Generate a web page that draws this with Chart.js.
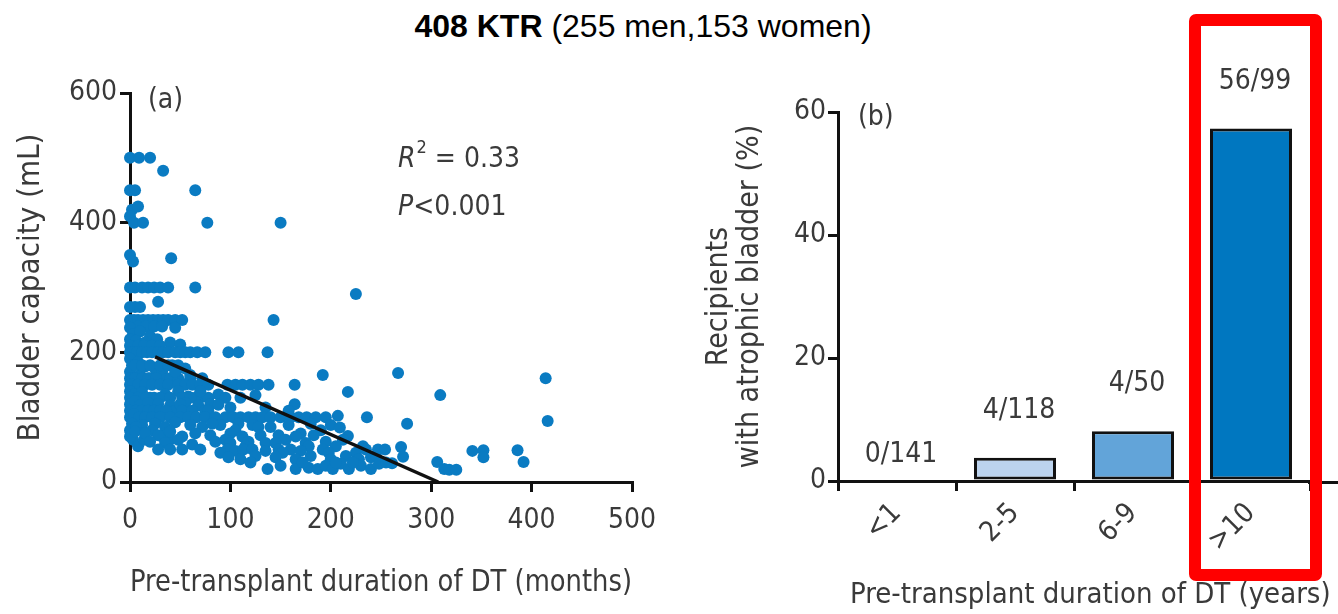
<!DOCTYPE html>
<html>
<head>
<meta charset="utf-8">
<script src="https://cdn.jsdelivr.net/npm/chart.js@4.4.0/dist/chart.umd.min.js"></script>
<style>
  body { margin: 0; background: #fff; width: 1338px; height: 614px; overflow: hidden; position: relative; }
  #title { position: absolute; top: 8px; left: 0; width: 1286px; text-align: center;
    font-family: 'Liberation Sans', Arial, sans-serif; font-size: 32px; color: #000; }
  #scatter { position: absolute; left: 0; top: 0; }
  #bars { position: absolute; left: 670px; top: 0; }
  #highlight { position: absolute; left: 1189px; top: 14px; width: 133px; height: 567px;
    border: 12px solid #ff0000; border-radius: 7px; box-sizing: border-box; }
</style>
</head>
<body>
<div id="title"><b>408 KTR</b> (255 men,153 women)</div>
<canvas id="scatter" width="670" height="614"></canvas>
<canvas id="bars" width="668" height="614"></canvas>
<div id="highlight"></div>
<script>
// panel (a): pre-transplant duration (months) vs bladder capacity (mL)
const durationMonths = [
  0, 9, 20, 33, 0, 5, 65, 2, 8, 0, 4, 13, 77, 150, 0, 3, 41, 225,
  0, 5, 12, 18, 24, 30, 38, 65, 28, 0, 5, 10,
  0, 4, 8, 13, 18, 23, 28, 33, 38, 45, 52, 143, 8, 16, 24, 32,
  0, 3, 10, 20, 45, 0, 6, 15, 27, 40, 50, 0, 8, 14, 22, 30,
  0, 3, 7, 12, 17, 22, 28, 33, 38, 45, 50, 55, 60, 67, 75, 98, 108, 137,
  0, 2, 8, 15, 25, 32, 42, 55, 0, 10, 20, 35, 192, 267, 5, 12, 20, 30, 38, 48,
  0, 5, 12, 18, 26, 40, 48, 60, 72, 45, 60,
  0, 3, 8, 15, 22, 30, 38, 48, 55, 62, 70, 78, 97, 105, 112, 120, 128, 138, 164, 217,
  0, 4, 12, 20, 35, 48, 58, 70, 88, 125, 309, 0, 8, 16, 24, 30, 40, 52, 65, 78, 95, 110, 70, 60,
  0, 5, 10, 18, 28, 40, 55, 68, 80, 88, 164, 100, 45, 135, 158, 50,
  0, 6, 12, 18, 24, 30, 36, 52, 62, 75, 78,
  0, 4, 9, 15, 22, 30, 40, 50, 58, 66, 75, 85, 95, 103, 110, 118, 125, 132, 140, 150,
  160, 168, 176, 185, 195, 207, 236, 276, 416, 414,
  2, 12, 25, 35, 45, 60, 72, 90, 108, 122, 140, 158, 180, 200, 209, 82, 128, 190,
  0, 3, 8, 0, 6, 14, 22, 32, 40, 105,
  5, 15, 28, 40, 52, 65, 80, 100, 112, 130, 148, 170, 183, 217, 95, 165, 212,
  20, 35, 48, 62, 85, 100, 118, 135, 155, 175, 195, 205, 115, 145, 178, 232,
  28, 40, 52, 70, 97, 105, 113, 122, 135, 148, 160, 170, 192, 225, 235, 247, 254, 270, 341, 352, 386,
  90, 152, 198,
  98, 110, 125, 145, 165, 180, 200, 215, 228, 240, 272, 352, 245,
  137, 150, 165, 178, 187, 195, 202, 210, 218, 230, 240, 248, 261, 306, 313, 318, 325, 392,
  120, 172, 205, 222, 255
];
const capacityMl = [
  500, 500, 500, 480, 450, 450, 450, 420, 425, 410, 400, 400, 400, 400, 350, 340, 345, 290,
  300, 300, 300, 300, 300, 300, 300, 300, 278, 270, 270, 270,
  250, 250, 250, 250, 250, 250, 250, 250, 250, 250, 250, 250, 240, 240, 240, 240,
  238, 228, 232, 225, 238, 220, 218, 215, 220, 215, 212, 210, 210, 210, 210, 210,
  200, 200, 200, 200, 200, 200, 200, 200, 200, 200, 200, 200, 200, 200, 200, 200, 200, 200,
  190, 180, 185, 178, 175, 170, 180, 175, 170, 165, 160, 158, 165, 168, 180, 180, 180, 180, 180, 180,
  160, 160, 160, 160, 160, 160, 160, 160, 160, 170, 165,
  150, 150, 150, 150, 150, 150, 150, 150, 150, 150, 150, 150, 150, 150, 150, 150, 150, 150, 150, 139,
  140, 135, 138, 130, 135, 140, 132, 130, 135, 134, 134, 130, 130, 130, 130, 130, 130, 130, 130, 130, 130, 130, 140, 130,
  120, 125, 118, 122, 120, 118, 122, 118, 120, 119, 120, 115, 110, 115, 110, 120,
  110, 110, 110, 110, 110, 110, 110, 110, 110, 110, 110,
  100, 105, 100, 100, 100, 100, 100, 100, 100, 100, 100, 100, 100, 100, 100, 100, 100, 100, 100, 100,
  100, 100, 100, 100, 100, 102, 100, 90, 94, 160,
  90, 88, 90, 85, 92, 88, 85, 88, 90, 88, 85, 88, 90, 88, 84, 90, 85, 80,
  80, 65, 55, 70, 85, 65, 80, 70, 65, 80,
  78, 75, 72, 78, 70, 75, 72, 75, 70, 72, 72, 75, 72, 71, 65, 70, 65,
  62, 60, 65, 58, 62, 60, 62, 60, 65, 60, 62, 55, 55, 60, 55, 55,
  50, 50, 50, 50, 50, 48, 50, 50, 48, 50, 50, 48, 50, 45, 50, 50, 50, 54, 48, 49, 49,
  45, 45, 45,
  38, 35, 40, 38, 35, 40, 35, 40, 35, 38, 39, 38, 40,
  20, 25, 20, 22, 20, 25, 20, 28, 20, 25, 20, 28, 29, 31, 20, 19, 19, 31,
  30, 30, 30, 30, 30
];
const fitMonths = [25, 307];
const fitCapacity = [193, 0];

// panel (b): share of recipients with atrophic bladder by dialysis years
const durationGroups = ['<1', '2-5', '6-9', '>10'];
const atrophicPercent = [0, 3.8, 8.1, 57.3];
const groupCounts = ['0/141', '4/118', '4/50', '56/99'];
const barColors = ['#bcd3ee', '#bcd3ee', '#62a4d9', '#0077c0'];

const narrow = "'DejaVu Sans Condensed', 'Liberation Sans', sans-serif";
const textColor = '#3a3a3a';
const ink = '#111';

function axisStyle(extra) {
  return Object.assign({
    border: { display: true, color: ink, width: 3 },
    grid: { display: true, drawOnChartArea: false, drawTicks: true, tickLength: 10, lineWidth: 3, color: ink },
  }, extra);
}

const scatterNotes = {
  id: 'scatterNotes',
  afterDraw(chart) {
    const { ctx, chartArea, scales } = chart;
    ctx.save();
    ctx.fillStyle = textColor;
    ctx.textBaseline = 'middle';
    ctx.textAlign = 'left';
    ctx.font = `28px ${narrow}`;
    ctx.fillText('(a)', chartArea.left + 18, chartArea.top + 8);

    const x0 = scales.x.getPixelForValue(267);
    let y = scales.y.getPixelForValue(497);
    ctx.font = `italic 28px ${narrow}`;
    ctx.fillText('R', x0, y);
    let w = ctx.measureText('R').width;
    ctx.font = `18px ${narrow}`;
    ctx.fillText('2', x0 + w + 1, y - 11);
    w += ctx.measureText('2').width + 1;
    ctx.font = `28px ${narrow}`;
    ctx.fillText(' = 0.33', x0 + w, y);

    y = scales.y.getPixelForValue(423);
    ctx.font = `italic 28px ${narrow}`;
    ctx.fillText('P', x0, y);
    w = ctx.measureText('P').width;
    ctx.font = `28px ${narrow}`;
    ctx.fillText('<0.001', x0 + w, y);
    ctx.restore();
  }
};

new Chart(document.getElementById('scatter'), {
  type: 'scatter',
  data: {
    datasets: [
      {
        type: 'line',
        data: fitMonths.map((m, i) => ({ x: m, y: fitCapacity[i] })),
        borderColor: ink,
        borderWidth: 3.5,
        pointRadius: 0,
        clip: false,
      },
      {
        data: durationMonths.map((m, i) => ({ x: m, y: capacityMl[i] })),
        backgroundColor: '#0a7bc2',
        borderWidth: 0,
        pointRadius: 6,
        clip: false,
      },
    ],
  },
  options: {
    responsive: false,
    animation: false,
    layout: { padding: { top: 93, right: 38, bottom: 0, left: 0 } },
    plugins: { legend: { display: false }, tooltip: { enabled: false } },
    scales: {
      x: axisStyle({
        type: 'linear',
        min: 0,
        max: 500,
        ticks: { stepSize: 100, color: textColor, font: { family: narrow, size: 28 }, padding: 12 },
        title: { display: true, text: 'Pre-transplant duration of DT (months)', color: textColor,
          font: { family: narrow, size: 30 }, padding: { top: 0, bottom: 13 } },
        afterFit(scale) { scale.height = 132; },
      }),
      y: axisStyle({
        min: 0,
        max: 600,
        ticks: { stepSize: 200, color: textColor, font: { family: narrow, size: 28 }, padding: 3 },
        title: { display: true, text: 'Bladder capacity (mL)', color: textColor,
          font: { family: narrow, size: 31 }, padding: { top: 12, bottom: 0 } },
        afterFit(scale) { scale.width = 130; },
      }),
    },
  },
  plugins: [scatterNotes],
});

const barNotes = {
  id: 'barNotes',
  afterDraw(chart) {
    const { ctx, chartArea, width } = chart;
    const meta = chart.getDatasetMeta(0);
    ctx.save();
    // x axis line runs on to the edge of the figure
    ctx.strokeStyle = ink;
    ctx.lineWidth = 3;
    ctx.beginPath();
    ctx.moveTo(chartArea.right - 2, chartArea.bottom + 1.5);
    ctx.lineTo(width, chartArea.bottom + 1.5);
    ctx.stroke();

    ctx.fillStyle = textColor;
    ctx.textAlign = 'center';
    ctx.textBaseline = 'middle';
    ctx.font = `28px ${narrow}`;
    meta.data.forEach((bar, i) => {
      const lift = atrophicPercent[i] === 0 ? 26 : 47;
      ctx.fillText(groupCounts[i], bar.x + 4, bar.y - lift);
    });

    ctx.textAlign = 'left';
    ctx.fillText('(b)', chartArea.left + 20, chartArea.top + 6);

    ctx.font = `29px ${narrow}`;
    ctx.fillText('Pre-transplant duration of DT (years)', 180, 595);
    ctx.restore();
  }
};

new Chart(document.getElementById('bars'), {
  type: 'bar',
  data: {
    labels: durationGroups,
    datasets: [{
      data: atrophicPercent,
      backgroundColor: barColors,
      borderColor: ink,
      borderWidth: 3,
      borderSkipped: false,
      barPercentage: 0.695,
      categoryPercentage: 1,
    }],
  },
  options: {
    responsive: false,
    animation: false,
    layout: { padding: { top: 112, right: 28, bottom: 0, left: 0 } },
    plugins: { legend: { display: false }, tooltip: { enabled: false } },
    scales: {
      x: axisStyle({
        ticks: { color: textColor, font: { family: narrow, size: 28 }, minRotation: 45, maxRotation: 45, padding: 6 },
        afterFit(scale) { scale.height = 133; },
      }),
      y: axisStyle({
        min: 0,
        max: 60,
        ticks: { stepSize: 20, color: textColor, font: { family: narrow, size: 28 }, padding: 2 },
        title: { display: true, text: ['Recipients', 'with atrophic bladder (%)'], color: textColor,
          font: { family: narrow, size: 30, lineHeight: 1.02 }, padding: { top: 34, bottom: 0 } },
        afterFit(scale) { scale.width = 168; },
      }),
    },
  },
  plugins: [barNotes],
});
</script>
</body>
</html>
